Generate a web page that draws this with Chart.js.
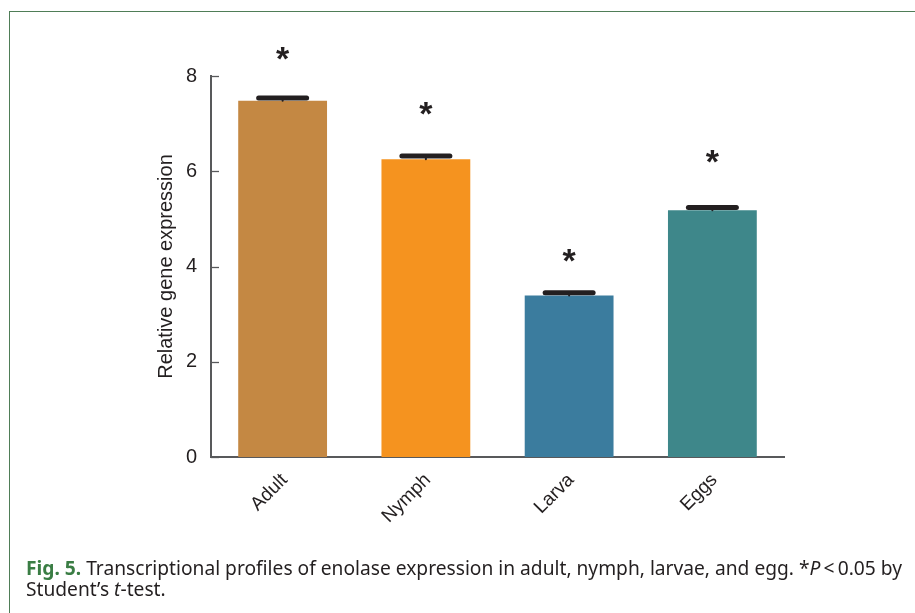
<!DOCTYPE html>
<html>
<head>
<meta charset="utf-8">
<script src="https://cdn.jsdelivr.net/npm/chart.js@4.4.1/dist/chart.umd.min.js"></script>
<style>
  html, body { margin:0; padding:0; background:#fff; width:915px; height:613px; overflow:hidden; }
  #frame { position:absolute; left:9px; top:11px; width:1000px; height:700px;
           border-top:1.5px solid #4f7d57; border-left:1.5px solid #4f7d57; }
  #c { position:absolute; left:0; top:0; }
  #caption { position:absolute; left:26px; top:557px; font-family:"Noto Sans", "Open Sans", sans-serif;
             font-size:19.5px; line-height:21.2px; color:#231f20; white-space:nowrap; transform-origin:0 0; }
  #caption b { color:#3a7d44; }
</style>
</head>
<body>
<div id="frame"></div>
<canvas id="c" width="915" height="613"></canvas>
<div id="caption"><span id="l1"><b>Fig. 5.</b> Transcriptional profiles of enolase expression in adult, nymph, larvae, and egg. *<i>P</i>&thinsp;&lt;&thinsp;0.05 by</span><br>Student’s <i>t</i>-test.</div>
<script>
const categories = ['Adult', 'Nymph', 'Larva', 'Eggs'];
const values = [7.48, 6.25, 3.39, 5.18];
const errors = [0.06, 0.07, 0.06, 0.06];
const starLevels = [8.47, 7.32, 4.24, 6.32];
const yTicks = [0, 2, 4, 6, 8];
const barColors = ['#c48843', '#f5931f', '#3b7c9e', '#3e878a'];

const overlay = {
  id: 'overlay',
  afterDatasetsDraw(chart) {
    const ctx = chart.ctx;
    const xs = chart.scales.x, ys = chart.scales.y;
    const area = chart.chartArea;
    ctx.save();
    // inward y ticks
    ctx.strokeStyle = '#58595b';
    ctx.lineWidth = 1.3;
    yTicks.forEach(v => {
      const y = Math.round(ys.getPixelForValue(v)) + 0.5;
      ctx.beginPath();
      ctx.moveTo(area.left, y);
      ctx.lineTo(area.left + 8, y);
      ctx.stroke();
    });
    // error caps
    ctx.strokeStyle = '#231f20';
    ctx.lineCap = 'round';
    values.forEach((v, i) => {
      const x = xs.getPixelForValue(i);
      const yTop = ys.getPixelForValue(v + errors[i]);
      const yVal = ys.getPixelForValue(v);
      ctx.lineWidth = 2;
      ctx.beginPath(); ctx.moveTo(x, yVal); ctx.lineTo(x, yTop); ctx.stroke();
      ctx.lineWidth = 5;
      ctx.beginPath(); ctx.moveTo(x - 24, yTop); ctx.lineTo(x + 24, yTop); ctx.stroke();
    });
    // asterisks
    ctx.fillStyle = '#231f20';
    ctx.font = 'bold 34px "Liberation Sans", Arial, sans-serif';
    ctx.textAlign = 'center';
    ctx.textBaseline = 'alphabetic';
    const m = ctx.measureText('*');
    const off = (m.actualBoundingBoxAscent - m.actualBoundingBoxDescent) / 2;
    starLevels.forEach((s, i) => {
      const x = xs.getPixelForValue(i);
      const y = ys.getPixelForValue(s);
      ctx.fillText('*', x, y + off);
    });
    ctx.restore();
  }
};

new Chart(document.getElementById('c'), {
  type: 'bar',
  data: {
    labels: categories,
    datasets: [{
      data: values,
      backgroundColor: barColors,
      borderWidth: 0,
      barPercentage: 0.62,
      categoryPercentage: 1.0
    }]
  },
  options: {
    responsive: false,
    animation: false,
    layout: { padding: { top: 76, right: 131, left: 0, bottom: 0 } },
    plugins: { legend: { display: false }, tooltip: { enabled: false } },
    scales: {
      x: {
        grid: { display: false, drawTicks: false },
        border: { display: true, color: '#58595b', width: 2 },
        ticks: {
          maxRotation: 45, minRotation: 45, padding: 12, labelOffset: 2,
          color: '#231f20',
          font: { family: '"Liberation Sans", Arial, sans-serif', size: 19 }
        },
        afterFit(s) { s.height = 156; }
      },
      y: {
        min: 0, max: 8,
        afterBuildTicks(s) { s.ticks = yTicks.map(v => ({ value: v })); },
        grid: { display: false, drawTicks: false },
        border: { display: true, color: '#58595b', width: 2 },
        ticks: {
          padding: 14, color: '#231f20',
          font: { family: '"Liberation Sans", Arial, sans-serif', size: 20 }
        },
        title: {
          display: true, text: 'Relative gene expression', color: '#231f20',
          font: { family: '"Liberation Sans", Arial, sans-serif', size: 20 },
          padding: { top: 154, bottom: 0 }
        },
        afterFit(s) { s.width = 211; }
      }
    }
  },
  plugins: [overlay]
});

// fit caption first line to reference width
const l1 = document.getElementById('l1');
const w = l1.getBoundingClientRect().width;
document.getElementById('caption').style.transform = 'scaleX(' + (876 / w) + ')';
</script>
</body>
</html>
